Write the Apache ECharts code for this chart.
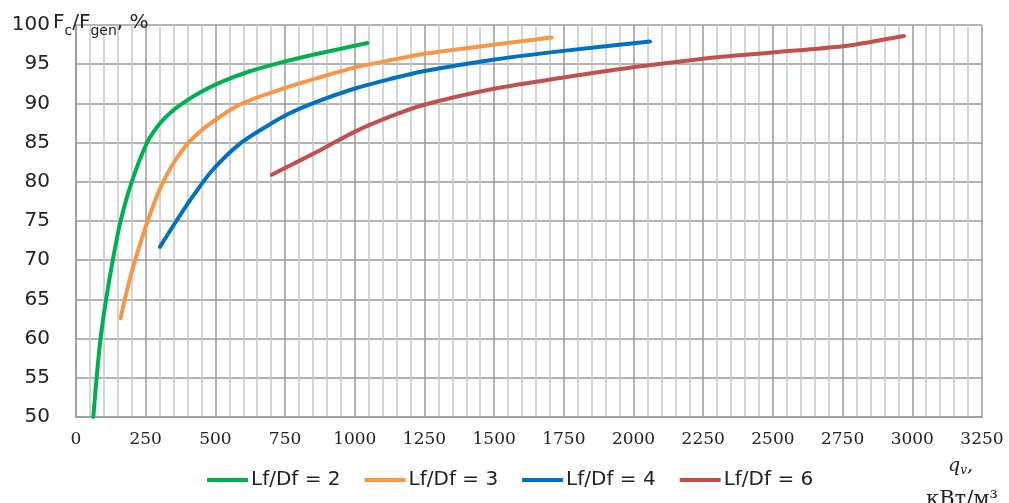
<!DOCTYPE html>
<html>
<head>
<meta charset="utf-8">
<script src="https://cdn.jsdelivr.net/npm/echarts@6/dist/echarts.min.js"></script>
<style>
html,body{margin:0;padding:0;background:#fff;}
#chart{width:1009px;height:503px;}
</style>
</head>
<body>
<div id="chart"></div>
<script>
const seriesNames = ['Lf/Df = 2', 'Lf/Df = 3', 'Lf/Df = 4', 'Lf/Df = 6'];
const xTicks = { min: 0, max: 3250, step: 250 };
const yTicks = { min: 50, max: 100, step: 5 };

const x2 = [62, 74, 88, 108, 132, 160, 200, 255, 300, 345, 390, 440, 526, 624, 744, 863, 1045];
const y2 = [50, 55, 60, 65, 70, 75, 80, 85, 87.4, 89, 90.2, 91.3, 92.8, 94.1, 95.3, 96.3, 97.7];

const x3 = [160, 175, 200, 225, 257, 300, 350, 409, 480, 590, 744, 863, 1001, 1126, 1246, 1503, 1706];
const y3 = [62.6, 65, 68.5, 71.5, 75, 79, 82.4, 85.2, 87.4, 89.9, 91.9, 93.2, 94.6, 95.5, 96.3, 97.5, 98.4];

const x4 = [301, 360, 420, 490, 586, 680, 770, 863, 1001, 1126, 1246, 1503, 1748, 2059];
const y4 = [71.7, 75, 78.2, 81.5, 84.8, 87, 88.8, 90.2, 91.9, 93.1, 94.1, 95.6, 96.7, 97.9];

const x6 = [702, 863, 1001, 1126, 1246, 1503, 1748, 1999, 2250, 2501, 2752, 2860, 2970];
const y6 = [80.9, 83.8, 86.4, 88.3, 89.8, 91.9, 93.3, 94.6, 95.7, 96.5, 97.3, 97.9, 98.6];

const colors = ['#00B050', '#F79646', '#0070C0', '#C0504D'];
const xs = [x2, x3, x4, x6];
const ys = [y2, y3, y4, y6];

const chart = echarts.init(document.getElementById('chart'), null, { renderer: 'canvas' });

const series = seriesNames.map((name, i) => ({
  name: name,
  type: 'line',
  data: xs[i].map((x, j) => [x, ys[i][j]]),
  smooth: 0.3,
  symbol: 'none',
  showSymbol: false,
  lineStyle: { width: 4, color: colors[i], cap: 'round' },
  itemStyle: { color: colors[i] },
  z: 5
}));

chart.setOption({
  animation: false,
  backgroundColor: '#ffffff',
  grid: { left: 76, right: 27, top: 25, bottom: 86, containLabel: false },
  xAxis: {
    type: 'value',
    min: xTicks.min, max: xTicks.max, interval: xTicks.step,
    axisLine: { show: true, lineStyle: { color: '#999999', width: 1.5 } },
    axisTick: { show: false },
    axisLabel: { margin: 14, fontFamily: 'DejaVu Serif', fontSize: 17, color: '#222222', formatter: v => String(v) },
    splitLine: { show: true, lineStyle: { color: '#9a9a9a', width: 1.5 } },
    minorTick: { show: false, splitNumber: 5 },
    minorSplitLine: { show: true, lineStyle: { color: '#c8c8c8', width: 1.5 } }
  },
  yAxis: {
    type: 'value',
    min: yTicks.min, max: yTicks.max, interval: yTicks.step,
    axisLine: { show: true, lineStyle: { color: '#999999', width: 1.5 } },
    axisTick: { show: false },
    axisLabel: { margin: 26, fontFamily: 'DejaVu Sans', fontSize: 20, color: '#222222' },
    splitLine: { show: true, lineStyle: { color: '#9a9a9a', width: 1.5 } }
  },
  legend: {
    data: seriesNames.map((n, i) => ({ name: n, icon: 'rect', itemStyle: { color: colors[i] } })),
    left: 207, top: 470,
    orient: 'horizontal',
    itemWidth: 41, itemHeight: 4, itemGap: 24,
    padding: 0,
    textStyle: { fontFamily: 'DejaVu Sans', fontSize: 20, color: '#222222', padding: [0, 0, 0, -2] }
  },
  graphic: [
    {
      type: 'text', left: 53, top: 13, z: 10,
      style: {
        text: '{m|F}{s|c}{m|/F}{s|gen}{m|, %}',
        rich: {
          m: { fontFamily: 'DejaVu Sans', fontSize: 20, fill: '#222222', verticalAlign: 'bottom', lineHeight: 24 },
          s: { fontFamily: 'DejaVu Sans', fontSize: 14, fill: '#222222', verticalAlign: 'bottom', lineHeight: 24, padding: [0, 0, -5, 0] }
        }
      }
    },
    {
      type: 'text', left: 948, top: 457, z: 10,
      style: {
        text: '{q|q}{v|v},',
        font: 'italic 19px "DejaVu Serif"',
        fill: '#222222',
        rich: {
          q: { fontFamily: 'DejaVu Serif', fontStyle: 'italic', fontSize: 19, fill: '#222222' },
          v: { fontFamily: 'DejaVu Serif', fontStyle: 'italic', fontSize: 12, fill: '#222222', padding: [8, 0, 0, 0] }
        }
      }
    },
    {
      type: 'text', left: 926, top: 489, z: 10,
      style: { text: 'кВт/м³', font: '21px "DejaVu Serif"', fill: '#222222' }
    }
  ],
  series: series
});
</script>
</body>
</html>
